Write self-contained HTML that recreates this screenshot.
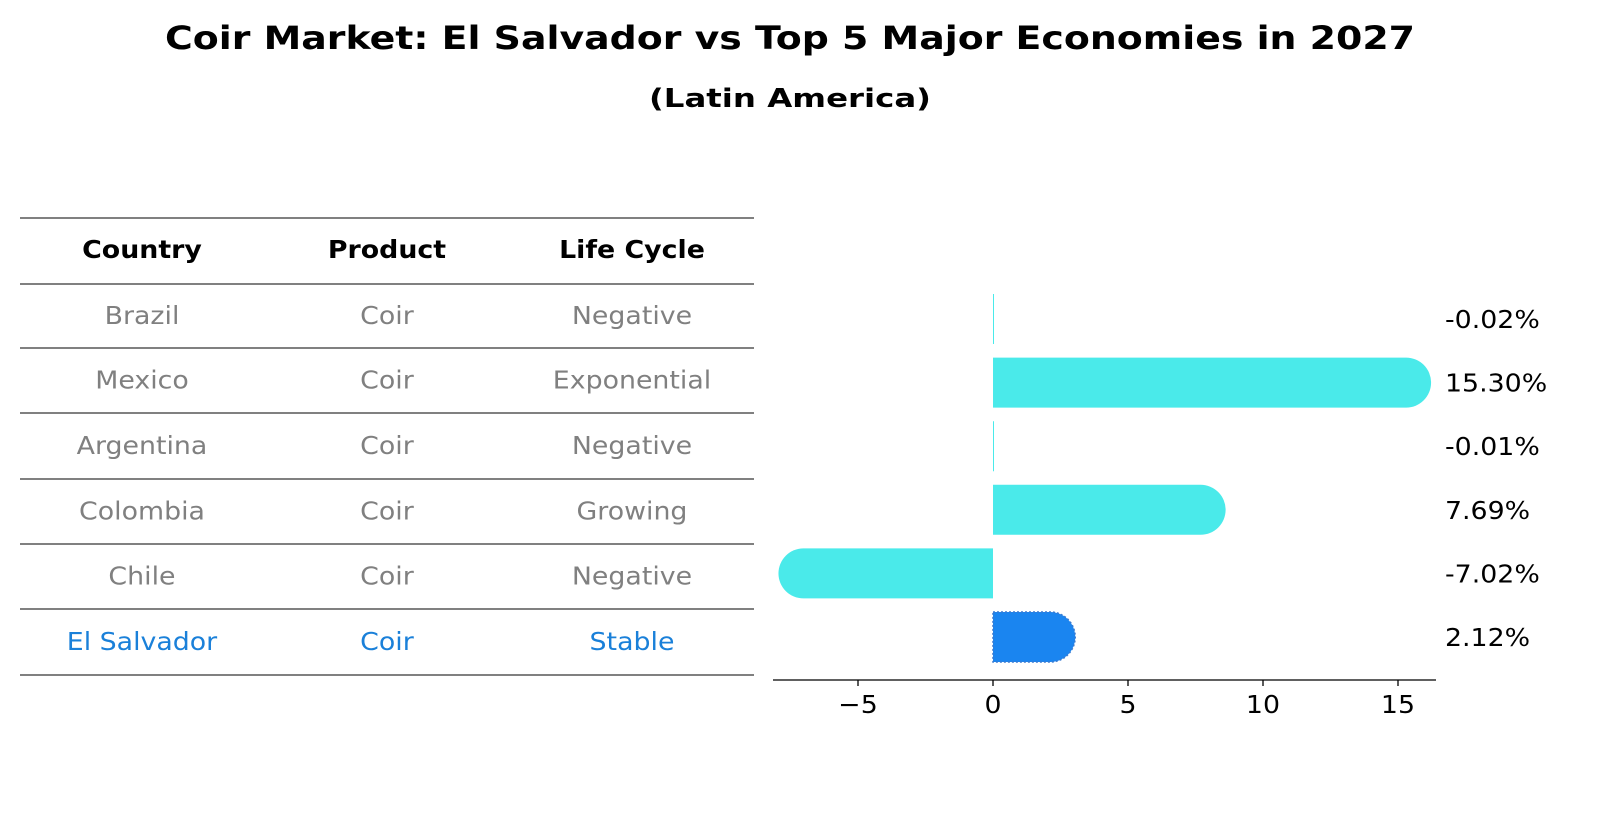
<!DOCTYPE html>
<html><head><meta charset="utf-8"><style>
body{margin:0;background:#fff;font-family:"DejaVu Sans","Liberation Sans",sans-serif;}
svg text{font-family:"DejaVu Sans","Liberation Sans",sans-serif;}
</style></head><body>
<svg id="chart" width="1604" height="823" viewBox="0 0 1604 823">
<text x="790" y="49" text-anchor="middle" font-size="32" font-weight="bold" textLength="1250" lengthAdjust="spacingAndGlyphs">Coir Market: El Salvador vs Top 5 Major Economies in 2027</text>
<text x="790" y="107" text-anchor="middle" font-size="26" font-weight="bold" textLength="282" lengthAdjust="spacingAndGlyphs">(Latin America)</text>
<g id="table"></g>
<g id="bars"></g>
</svg>
<script>
const countries=["Brazil","Mexico","Argentina","Colombia","Chile","El Salvador"];
const products=["Coir","Coir","Coir","Coir","Coir","Coir"];
const lifecycle=["Negative","Exponential","Negative","Growing","Negative","Stable"];
const values=[-0.02,15.30,-0.01,7.69,-7.02,2.12];
const ticks=[-5,0,5,10,15];
const NS="http://www.w3.org/2000/svg";
const FS=25, STRETCH=1.41*19/25;
function mk(tag,attrs,parent,txt){const e=document.createElementNS(NS,tag);for(const k in attrs)e.setAttribute(k,attrs[k]);if(txt!==undefined)e.textContent=txt;parent.appendChild(e);return e;}
function fit(t){const w=t.getComputedTextLength();t.setAttribute('textLength',(w*STRETCH).toFixed(1));t.setAttribute('lengthAdjust','spacingAndGlyphs');}
const tbl=document.getElementById('table');
const lineYs=[218,284,348,413,479,544,609,675];
const colX=[142,387,632];
lineYs.forEach((y,i)=>{const l=mk('line',{x1:20,x2:754,y1:y,y2:y,stroke:'#000','stroke-width':1},tbl);

});
["Country","Product","Life Cycle"].forEach((h,i)=>{const t=mk('text',{x:colX[i],y:258,'text-anchor':'middle','font-size':FS,'font-weight':'bold'},tbl,h);

fit(t);});
const rowY=i=>(lineYs[i+1]+lineYs[i+2])/2+8;
countries.forEach((c,i)=>{const col=i===countries.length-1?'#1a80d9':'#808080';
[c,products[i],lifecycle[i]].forEach((v,j)=>{const t=mk('text',{x:colX[j],y:rowY(i),'text-anchor':'middle','font-size':FS,fill:col},tbl,v);

fit(t);});});
const bars=document.getElementById('bars');
const x0=993,ppu=27;const xs=v=>x0+v*ppu;
const barY=i=>319+i*63.6;const h=50,r=25;
values.forEach((v,i)=>{const last=i===values.length-1;const fill=last?'#1a85f0':'#4aeaea';
const cy=barY(i);const xe=xs(v);let d;
if(Math.abs(v)<0.05){d=`M${x0},${cy-r}h1v${h}h-1z`;}
else if(v>0){d=`M${x0},${cy-r}H${xe}A${r},${r} 0 0 1 ${xe},${cy+r}H${x0}Z`;}
else{d=`M${x0},${cy-r}H${xe}A${r},${r} 0 0 0 ${xe},${cy+r}H${x0}Z`;}
const p=mk('path',{d:d,fill:fill},bars);
if(last){p.setAttribute('stroke','#3a7ad0');p.setAttribute('stroke-dasharray','2,2');p.setAttribute('stroke-width','1.5');}


const t=mk('text',{x:1445,y:cy+9,'font-size':FS},bars,v.toFixed(2)+'%');

fit(t);});
const ax=mk('line',{x1:773,x2:1436,y1:680,y2:680,stroke:'#000','stroke-width':1.3},bars);


ticks.forEach(tk=>{const l=mk('line',{x1:xs(tk),x2:xs(tk),y1:680,y2:686,stroke:'#000','stroke-width':1.3},bars);


const t=mk('text',{x:xs(tk),y:713,'text-anchor':'middle','font-size':FS},bars,tk<0?'\u2212'+(-tk):String(tk));

fit(t);});
</script>
</body></html>
